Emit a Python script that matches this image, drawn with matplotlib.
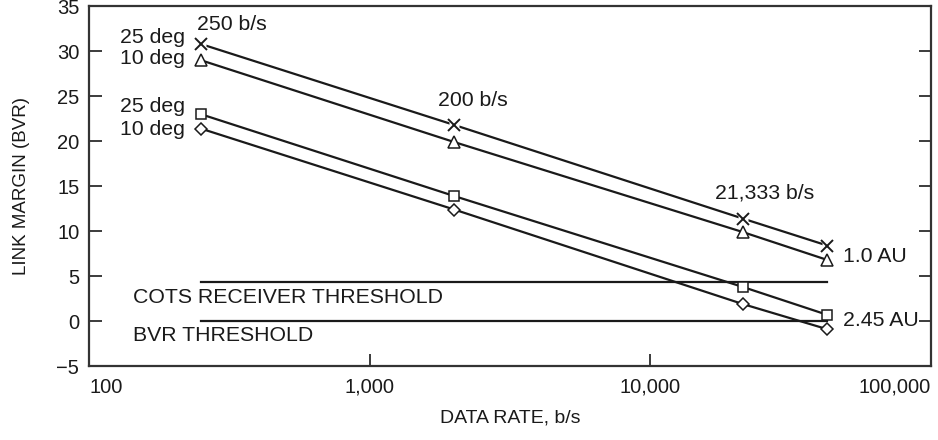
import matplotlib.pyplot as plt

plt.rcParams['font.family'] = ['Liberation Sans', 'DejaVu Sans']
plt.rcParams['font.size'] = 14.5
plt.rcParams['xtick.direction'] = 'in'
plt.rcParams['ytick.direction'] = 'in'

# data rates (b/s) and link margins (BVR)
rates = [250, 2000, 21333, 42667]
au1_25deg = [30.8, 21.8, 11.4, 8.4]
au1_10deg = [29.0, 19.9, 9.9, 6.8]
au245_25deg = [23.0, 13.9, 3.8, 0.7]
au245_10deg = [21.4, 12.4, 1.9, -0.9]

cots_threshold = 4.3
bvr_threshold = 0.0
threshold_span = [250, 42667]

xticks = [100, 1000, 10000, 100000]
xticklabels = ['100', '1,000', '10,000', '100,000']
yticks = [-5, 0, 5, 10, 15, 20, 25, 30, 35]

ink = '#1a1a1a'

fig = plt.figure(figsize=(9.38, 4.40), dpi=100)
ax = fig.add_axes([0.0949, 0.168, 0.8976, 0.818])

lw = 1.6
ax.plot(threshold_span, [cots_threshold] * 2, color=ink, lw=lw, zorder=1)
ax.plot(threshold_span, [bvr_threshold] * 2, color=ink, lw=lw, zorder=1)

# top pair: crosses sit on a white patch so the line shows a small gap
ax.plot(rates, au1_25deg, color=ink, lw=lw, zorder=2)
ax.plot(rates, au1_25deg, ls='none', marker='s', ms=7, mfc='white', mec='none', zorder=3)
ax.plot(rates, au1_25deg, ls='none', marker='x', ms=8, mew=1.4, color=ink, zorder=4)
ax.plot(rates, au1_10deg, color=ink, lw=lw, marker='^', ms=8, mfc='white', mec=ink, mew=1.1, zorder=2)
ax.plot(rates, au245_25deg, color=ink, lw=lw, marker='s', ms=7, mfc='white', mec=ink, mew=1.1, zorder=2)
ax.plot(rates, au245_10deg, color=ink, lw=lw, marker='D', ms=6, mfc='white', mec=ink, mew=1.1, zorder=2)

ax.set_xscale('log')
ax.set_xlim(100, 100000)
ax.set_ylim(-5, 35)
ax.set_xticks(xticks)
ax.set_xticklabels(xticklabels)
ax.minorticks_off()
ax.set_yticks(yticks)

ax.tick_params(axis='y', left=True, right=True, length=9, width=1.2, pad=7, colors=ink)
ax.tick_params(axis='x', bottom=True, top=False, length=9, width=1.2, pad=8.5, colors=ink)
xlabels = ax.get_xticklabels()
xlabels[0].set_ha('left')
xlabels[-1].set_ha('right')
for s in ax.spines.values():
    s.set_linewidth(1.6)
    s.set_color('#333333')

ax.set_xlabel('DATA RATE, b/s', labelpad=9, color=ink, fontsize=14)
ax.set_ylabel('LINK MARGIN (BVR)', labelpad=19, color=ink, fontsize=13.5)

fs = 15.3
ax.text(242, 33.0, '250 b/s', fontsize=fs, ha='left', va='center', color=ink)
ax.text(220, 31.5, '25 deg', fontsize=fs, ha='right', va='center', color=ink)
ax.text(220, 29.2, '10 deg', fontsize=fs, ha='right', va='center', color=ink)
ax.text(220, 23.8, '25 deg', fontsize=fs, ha='right', va='center', color=ink)
ax.text(220, 21.3, '10 deg', fontsize=fs, ha='right', va='center', color=ink)
ax.text(1750, 24.5, '200 b/s', fontsize=fs, ha='left', va='center', color=ink)
ax.text(17000, 14.2, '21,333 b/s', fontsize=fs, ha='left', va='center', color=ink)
ax.text(48500, 7.2, '1.0 AU', fontsize=fs, ha='left', va='center', color=ink)
ax.text(48500, 0.1, '2.45 AU', fontsize=fs, ha='left', va='center', color=ink)
ax.text(143, 2.6, 'COTS RECEIVER THRESHOLD', fontsize=fs, ha='left', va='center', color=ink)
ax.text(143, -1.55, 'BVR THRESHOLD', fontsize=fs, ha='left', va='center', color=ink)

fig.savefig('out.png', dpi=100)
